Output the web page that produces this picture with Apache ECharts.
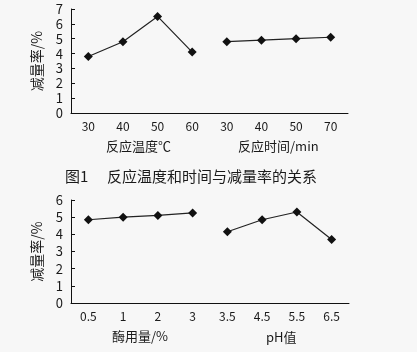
<!DOCTYPE html>
<html><head><meta charset="utf-8">
<script src="https://cdn.jsdelivr.net/npm/echarts@6/dist/echarts.min.js"></script>
<style>html,body{margin:0;padding:0;background:#f7f7f7}#c{width:417px;height:352px}</style>
</head><body><div id="c"></div>
<script>
// Figure 1 (top): temperature and time vs. weight loss rate
const topCats = ['30','40','50','60','30','40','50','70'];
const tempVals = [3.8, 4.8, 6.5, 4.1];
const timeVals = [4.8, 4.9, 5.0, 5.1];
// Bottom: enzyme dosage and pH vs. weight loss rate
const botCats = ['0.5','1','2','3','3.5','4.5','5.5','6.5'];
const enzymeVals = [4.85, 5.0, 5.1, 5.25];
const phVals = [4.15, 4.85, 5.3, 3.7];
const yName = '减量率/%';
const xNames = ['反应温度℃','反应时间/min','酶用量/%','pH值'];
const captionNo = '图1';
const captionText = '反应温度和时间与减量率的关系';

const font = '"Noto Sans CJK SC", "DejaVu Sans", sans-serif';
const pad = a => a.concat([null,null,null,null]);
const padL = a => [null,null,null,null].concat(a);

function xAxis(gi, cats){
  return {type:'category', gridIndex:gi, data:cats, boundaryGap:true,
    axisLine:{lineStyle:{color:'#111',width:1}},
    axisTick:{inside:true,length:4,lineStyle:{color:'#111'}},
    axisLabel:{color:'#1a1a1a',fontSize:12,fontFamily:font,margin:7}};
}
function yAxis(gi, max){
  return {type:'value', gridIndex:gi, min:0, max:max, interval:1,
    name:yName, nameLocation:'middle', nameRotate:90, nameGap:27,
    nameTextStyle:{color:'#1a1a1a',fontSize:14,fontFamily:font},
    axisLine:{show:true,lineStyle:{color:'#111',width:1}},
    axisTick:{show:true,inside:true,length:4,lineStyle:{color:'#111'}},
    splitLine:{show:false},
    axisLabel:{color:'#1a1a1a',fontSize:13,fontFamily:font,margin:8}};
}
function line(xi, yi, data){
  return {type:'line', xAxisIndex:xi, yAxisIndex:yi, data:data, connectNulls:false,
    symbol:'diamond', symbolSize:9, itemStyle:{color:'#111'},
    lineStyle:{color:'#222',width:1.2}, animation:false};
}
const chart = echarts.init(document.getElementById('c'));
chart.setOption({
  backgroundColor:'#f7f7f7',
  animation:false,
  grid:[{left:71, top:9, width:277, height:104},{left:71, top:200, width:278, height:103}],
  xAxis:[xAxis(0, topCats), xAxis(1, botCats)],
  yAxis:[yAxis(0,7), yAxis(1,6)],
  series:[line(0,0,pad(tempVals)), line(0,0,padL(timeVals)), line(1,1,pad(enzymeVals)), line(1,1,padL(phVals))],
  graphic:[
    {type:'text', left:106, top:140, style:{text:xNames[0], fill:'#1a1a1a', font:'13px '+font}},
    {type:'text', left:238, top:140, style:{text:xNames[1], fill:'#1a1a1a', font:'13px '+font}},
    {type:'text', left:112, top:330, style:{text:xNames[2], fill:'#1a1a1a', font:'13px '+font}},
    {type:'text', left:266, top:331, style:{text:xNames[3], fill:'#1a1a1a', font:'13px '+font}},
    {type:'text', left:65, top:169, style:{text:captionNo, fill:'#1a1a1a', font:'15px '+font}},
    {type:'text', left:107, top:169, style:{text:captionText, fill:'#1a1a1a', font:'15px '+font}}
  ]
});
</script></body></html>
